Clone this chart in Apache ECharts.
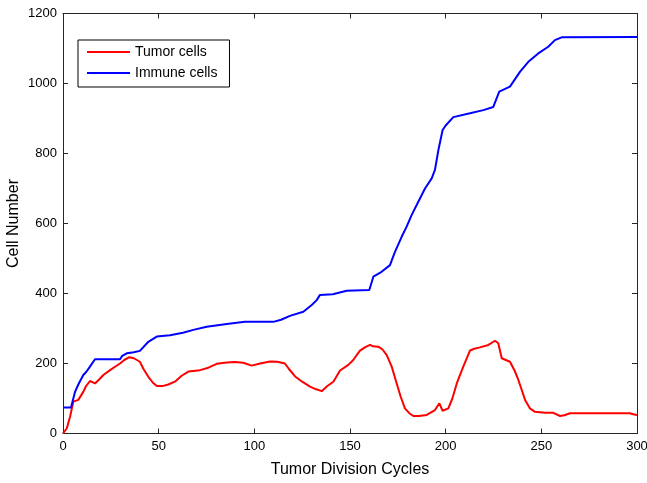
<!DOCTYPE html>
<html><head><meta charset="utf-8">
<script src="https://cdn.jsdelivr.net/npm/echarts@6/dist/echarts.min.js"></script>
<style>html,body{margin:0;padding:0;background:#fff}#c{width:647px;height:483px}</style>
</head><body><div id="c"></div>
<script>
const seriesNames = ['Tumor cells', 'Immune cells'];
const xTicks = [0, 50, 100, 150, 200, 250, 300];
const yTicks = [0, 200, 400, 600, 800, 1000, 1200];

const tumorX = [0,1,2,3.7,5.4,8,10.6,12,14.1,16.7,19,21.1,24.6,27,29.8,32,34.7,37,40.2,42,44.6,47,49,52.4,55,58.5,62,65.5,71.6,76,80.3,85.6,90,94.2,98.6,103,108.2,112,116,118,121.3,125,129.1,132,135.2,138,141.3,144.8,149.1,151.7,155.2,158,160.5,162,164.8,167,169.2,171.8,174.4,176.5,178.7,181,183.1,186,190.1,194.4,196.7,198.4,201.4,203.5,205.8,209.2,212.7,215,217.9,222.3,225.8,227.5,229.3,233.6,236,238,241.5,244,246.7,251.9,256.3,259.8,262,265,280,296.3,298,300];
const tumorY = [0,3,15,48,91,96,119,135,150,143,155,167,181,190,200,210,218,215,205,185,162,145,136,136,140,148,165,177,181,188,199,203,204,202,194,200,206,205,200,185,163,148,134,127,121,135,148,180,196,210,237,247,253,249,248,240,224,191,143,105,72,58,50,50,53,67,86,65,72,100,143,191,237,242,246,253,265,258,215,205,180,153,96,72,62,59,59,50,52,58,58,58,55,53];

const immuneX = [0,4.2,6.3,8,10.6,12,14.1,16.7,29.8,31,33.3,37,40.2,44.6,49,55.9,62.7,68.1,75.1,85.6,95.1,109.9,114,118.6,125.6,130,132.6,134.3,141,148.3,160.1,162.2,166.5,170.9,173.5,177,179.6,182.2,185.7,189.2,192.7,194.4,196.2,198.4,200,204,212.7,219.7,224.9,228,233.6,238.9,243.2,248.4,253.6,257.1,260.6,300];
const immuneY = [74,74,119,140,167,175,191,212,212,222,229,232,236,262,277,281,288,296,305,313,319,319,325,336,348,367,381,396,398,408,410,448,462,481,519,562,591,624,662,700,729,753,810,867,880,904,915,924,933,977,991,1034,1062,1086,1105,1124,1132,1133];

const zip = (xs, ys) => xs.map((x, i) => [x, ys[i]]);
const font = 'Liberation Sans, Arial, sans-serif';
const axColor = '#262626';

const chart = echarts.init(document.getElementById('c'), null, {renderer: 'canvas'});
const xMin = xTicks[0], xMax = xTicks[xTicks.length - 1], xInt = xTicks[1] - xTicks[0];
const yMin = yTicks[0], yMax = yTicks[yTicks.length - 1], yInt = yTicks[1] - yTicks[0];
const plain = v => String(v);

chart.setOption({
  animation: false,
  backgroundColor: '#fff',
  grid: {left: 63, right: 10, top: 13.5, bottom: 49.5, containLabel: false, outerBoundsMode: 'none'},
  legend: {
    data: seriesNames,
    orient: 'vertical',
    left: 78, top: 40,
    padding: [5, 12, 7, 9],
    itemGap: 7,
    itemWidth: 43, itemHeight: 2,
    icon: 'rect',
    borderColor: '#000', borderWidth: 1,
    backgroundColor: '#fff',
    textStyle: {fontFamily: font, fontSize: 14, color: '#000', padding: [0, 0, 0, 0]}
  },
  xAxis: [
    {type: 'value', position: 'bottom', min: xMin, max: xMax, interval: xInt,
     name: 'Tumor Division Cycles', nameLocation: 'middle', nameGap: 28, nameMoveOverlap: false,
     nameTextStyle: {fontFamily: font, fontSize: 16, color: '#000'},
     axisLine: {show: true, onZero: false, lineStyle: {color: axColor, width: 1}},
     axisTick: {show: true, inside: true, length: 5, lineStyle: {color: axColor}},
     axisLabel: {fontFamily: font, fontSize: 13, color: '#000', margin: 6, formatter: plain},
     splitLine: {show: false}},
    {type: 'value', position: 'top', min: xMin, max: xMax, interval: xInt,
     axisLine: {show: true, onZero: false, lineStyle: {color: axColor, width: 1}},
     axisTick: {show: true, inside: true, length: 5, lineStyle: {color: axColor}},
     axisLabel: {show: false}, splitLine: {show: false}}
  ],
  yAxis: [
    {type: 'value', position: 'left', min: yMin, max: yMax, interval: yInt,
     name: 'Cell Number', nameLocation: 'middle', nameGap: 41, nameMoveOverlap: false,
     nameTextStyle: {fontFamily: font, fontSize: 16, color: '#000'},
     axisLine: {show: true, onZero: false, lineStyle: {color: axColor, width: 1}},
     axisTick: {show: true, inside: true, length: 5, lineStyle: {color: axColor}},
     axisLabel: {fontFamily: font, fontSize: 13, color: '#000', margin: 6, formatter: plain},
     splitLine: {show: false}},
    {type: 'value', position: 'right', min: yMin, max: yMax, interval: yInt,
     axisLine: {show: true, onZero: false, lineStyle: {color: axColor, width: 1}},
     axisTick: {show: true, inside: true, length: 5, lineStyle: {color: axColor}},
     axisLabel: {show: false}, splitLine: {show: false}}
  ],
  series: [
    {name: seriesNames[0], type: 'line', xAxisIndex: 0, yAxisIndex: 0,
     data: zip(tumorX, tumorY), showSymbol: false, symbol: 'none',
     lineStyle: {color: '#ff0000', width: 2}, itemStyle: {color: '#ff0000'}},
    {name: seriesNames[1], type: 'line', xAxisIndex: 0, yAxisIndex: 0,
     data: zip(immuneX, immuneY), showSymbol: false, symbol: 'none',
     lineStyle: {color: '#0000ff', width: 2}, itemStyle: {color: '#0000ff'}}
  ]
});
</script>
</body></html>
